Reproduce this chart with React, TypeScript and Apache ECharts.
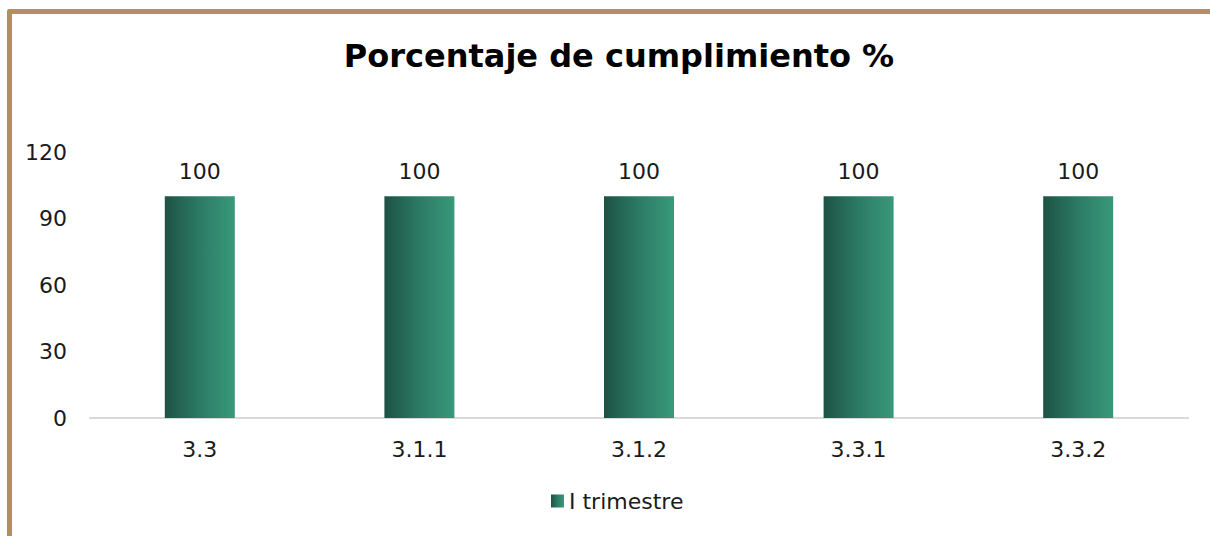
import React, { useEffect, useRef } from "react";
import * as echarts from "echarts";

const categories = ["3.3", "3.1.1", "3.1.2", "3.3.1", "3.3.2"];
const values = [100, 100, 100, 100, 100];
const seriesName = "I trimestre";
const titleText = "Porcentaje de cumplimiento %";

const FONT = "DejaVu Sans";

export default function App() {
  const ref = useRef<HTMLDivElement>(null);
  useEffect(() => {
    document.body.style.margin = "0";
    const chart = echarts.init(ref.current!, null, { renderer: "svg" });
    const grad = new echarts.graphic.LinearGradient(0, 0, 1, 0, [
      { offset: 0, color: "#1D5244" },
      { offset: 0.5, color: "#2C7B64" },
      { offset: 1, color: "#38997A" },
    ]);
    chart.setOption({
      animation: false,
      backgroundColor: "#ffffff",
      textStyle: { fontFamily: FONT },
      title: {
        text: titleText,
        left: 614,
        textAlign: "center",
        top: 35,
        textStyle: { fontFamily: FONT, fontWeight: "bold", fontSize: 32, color: "#000" },
      },
      legend: {
        bottom: 19,
        left: 546,
        itemWidth: 13,
        itemHeight: 13,
        icon: "rect",
        itemGap: 6,
        textStyle: { fontSize: 22, color: "#1a1a1a", fontFamily: FONT },
        data: [seriesName],
      },
      grid: { left: 90, right: 22, top: 152, bottom: 118 },
      xAxis: {
        type: "category",
        data: categories,
        axisLine: { lineStyle: { color: "#d9d9d9", width: 2 } },
        axisTick: { show: false },
        axisLabel: { fontSize: 22, color: "#1a1a1a", margin: 20, fontFamily: FONT },
      },
      yAxis: {
        type: "value",
        min: 0,
        max: 120,
        interval: 30,
        splitLine: { show: false },
        axisLine: { show: false },
        axisTick: { show: false },
        axisLabel: { fontSize: 22, color: "#1a1a1a", margin: 23, fontFamily: FONT },
      },
      series: [
        {
          name: seriesName,
          type: "bar",
          data: values,
          barWidth: 70,
          itemStyle: { color: grad },
          label: {
            show: true,
            position: "top",
            distance: 14,
            fontSize: 22,
            color: "#1a1a1a",
            fontFamily: FONT,
          },
        },
      ],
    });
    return () => chart.dispose();
  }, []);
  return (
    <div style={{ position: "relative", width: 1210, height: 536, background: "#fff", overflow: "hidden" }}>
      <div
        style={{
          position: "absolute",
          left: 7,
          top: 9,
          width: 1210,
          height: 540,
          borderTop: "5px solid #B38F5E",
          borderLeft: "5px solid #B38F5E",
          borderTopLeftRadius: 3,
          boxSizing: "border-box",
          pointerEvents: "none",
          zIndex: 2,
        }}
      />
      <div ref={ref} style={{ position: "absolute", left: 0, top: 0, width: 1210, height: 536 }} />
    </div>
  );
}
